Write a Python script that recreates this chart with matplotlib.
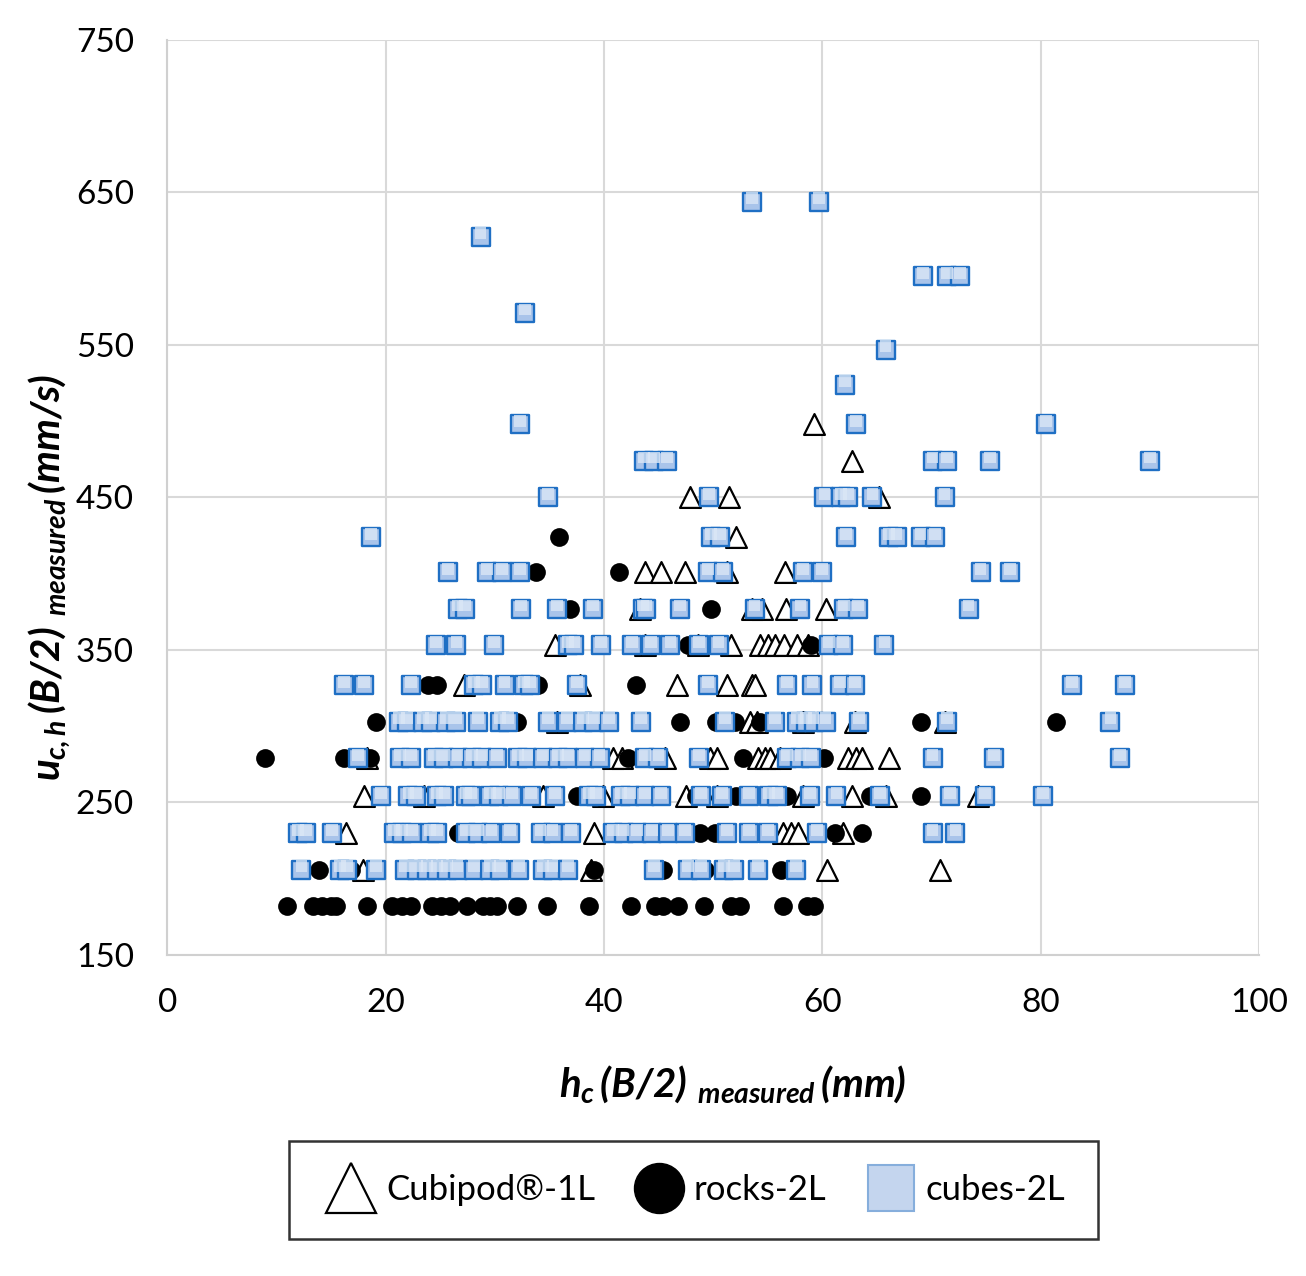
import matplotlib
matplotlib.use('Agg')
import matplotlib.pyplot as plt
from matplotlib.lines import Line2D

# velocity levels (mm/s) and the h_c values (mm) recorded at each level
levels = [182, 206, 230, 254, 279, 303, 327, 353, 377, 401,
          424, 450, 474, 498, 524, 547, 571, 595, 621, 644]

cubipod_h = [
    [],
    [17.9, 38.8, 60.4, 70.8],
    [16.4, 39.1, 56.4, 57.1, 57.8, 61.9],
    [18.0, 23.5, 34.4, 39.9, 47.5, 50.4, 58.2, 62.7, 65.8, 74.3],
    [18.3, 40.8, 41.7, 45.6, 49.7, 50.4, 54.1, 54.8, 55.2, 56.1, 62.4, 63.1, 63.6, 66.1],
    [35.7, 53.4, 54.0, 58.2, 63.0, 71.2],
    [27.2, 37.8, 46.7, 51.3, 53.6, 53.8],
    [35.5, 43.8, 48.6, 51.6, 54.3, 55.0, 55.7, 56.5, 57.7, 58.7],
    [43.3, 53.6, 54.5, 56.7, 60.3],
    [43.8, 45.2, 47.4, 51.3, 56.6],
    [52.1],
    [47.9, 51.5, 65.2],
    [62.7],
    [59.2],
    [], [], [], [], [], [],
]

rocks_h = [
    [11.0, 13.4, 14.2, 15.0, 15.5, 18.3, 20.6, 21.5, 22.3, 24.3, 25.1, 25.9, 27.5,
     28.9, 29.6, 30.2, 32.0, 34.8, 38.6, 42.5, 44.7, 45.4, 46.8, 49.2, 51.6, 52.5,
     56.4, 58.6, 59.2],
    [13.9, 16.8, 39.1, 45.4, 49.3, 56.2],
    [26.6, 48.8, 50.2, 61.2, 63.6],
    [37.5, 43.9, 48.4, 52.1, 56.8, 64.4, 69.0],
    [9.0, 16.2, 18.6, 42.2, 52.7, 60.2],
    [19.1, 32.0, 47.0, 50.3, 52.0, 54.3, 55.5, 69.0, 81.4],
    [23.9, 24.7, 32.0, 34.0, 42.9],
    [47.7, 49.1, 59.0],
    [36.9, 49.8],
    [33.8, 41.4],
    [35.9],
    [],
    [44.8],
    [], [], [], [], [], [], [],
]

cubes_h = [
    [],
    [12.3, 15.8, 16.5, 19.1, 21.8, 22.9, 23.8, 24.7, 25.6, 26.6, 28.1, 29.6, 30.5,
     32.2, 34.4, 35.3, 36.7, 44.6, 47.7, 48.9, 51.0, 51.9, 54.1, 57.6],
    [12.0, 12.7, 15.1, 20.8, 21.5, 22.4, 24.1, 24.7, 27.4, 28.5, 29.7, 31.4, 34.2,
     35.3, 37.0, 40.8, 41.8, 43.0, 44.4, 45.9, 47.4, 51.3, 53.3, 55.0, 59.5, 70.1, 72.2],
    [19.6, 22.1, 22.8, 24.7, 25.4, 27.4, 27.8, 29.6, 30.4, 31.6, 33.3, 35.5, 38.6,
     39.3, 41.6, 42.4, 43.8, 45.2, 48.9, 50.8, 53.3, 55.1, 55.9, 58.9, 61.3, 65.3,
     71.7, 74.9, 80.2],
    [17.5, 21.3, 22.3, 24.4, 25.4, 26.6, 27.9, 28.8, 30.2, 32.1, 33.0, 34.4, 35.8,
     36.7, 38.3, 39.6, 43.8, 45.0, 48.7, 56.8, 58.0, 59.0, 70.1, 75.7, 87.3],
    [21.2, 22.0, 23.4, 24.2, 25.5, 26.5, 28.5, 30.5, 31.2, 34.9, 36.6, 38.1, 39.1,
     40.5, 43.4, 51.1, 55.7, 57.7, 58.5, 59.2, 60.3, 63.4, 71.4, 86.4],
    [16.2, 18.0, 22.3, 28.1, 28.8, 30.9, 32.7, 33.2, 37.5, 49.5, 56.8, 59.1, 61.6,
     63.0, 82.9, 87.7],
    [24.6, 26.5, 29.9, 36.7, 37.3, 39.7, 42.6, 44.3, 46.1, 48.7, 50.5, 60.6, 61.9, 65.7],
    [26.6, 27.3, 32.4, 35.7, 39.0, 43.6, 43.9, 47.0, 53.8, 58.0, 62.0, 63.3, 73.4],
    [25.7, 29.3, 30.7, 32.3, 49.5, 50.9, 58.2, 60.0, 74.5, 77.2],
    [18.7, 49.8, 50.6, 62.2, 66.1, 66.8, 69.0, 70.3],
    [34.9, 49.6, 60.2, 61.7, 62.4, 64.6, 71.2],
    [43.7, 44.6, 45.8, 70.1, 71.4, 75.4, 90.0],
    [32.3, 63.1, 80.5],
    [62.1],
    [65.8],
    [32.8],
    [69.2, 71.4, 72.6],
    [28.7],
    [53.6, 59.7],
]


def flatten(h_lists):
    xs, ys = [], []
    for lev, hs in zip(levels, h_lists):
        xs += hs
        ys += [lev] * len(hs)
    return xs, ys


plt.rcParams['font.family'] = ['Lato', 'DejaVu Sans']
plt.rcParams['mathtext.fontset'] = 'custom'
plt.rcParams['mathtext.it'] = 'Lato:bold:italic'
plt.rcParams['mathtext.rm'] = 'Lato:bold:italic'
plt.rcParams['mathtext.bf'] = 'Lato:bold:italic'

fig = plt.figure(figsize=(13.06, 12.76), dpi=100)
ax = fig.add_axes([0.128, 0.2516, 0.836, 0.7171])

cube_face = '#a9c4ea'
cube_edge = '#1f6fc4'

x, y = flatten(cubipod_h)
ax.scatter(x, y, marker='^', s=15 ** 2, facecolor='white', edgecolor='black',
           linewidth=1.6, zorder=3)
x, y = flatten(rocks_h)
ax.scatter(x, y, marker='o', s=13.5 ** 2, color='black', linewidth=0, zorder=4)
x, y = flatten(cubes_h)
ax.scatter(x, y, marker='s', s=13 ** 2, facecolor=cube_face, edgecolor=cube_edge,
           linewidth=1.7, zorder=5)
# lighter upper half of each cube marker for a shaded look
ax.scatter(x, [v + 2.2 for v in y], marker='s', s=8.5 ** 2, facecolor='#dbe7f6',
           edgecolor='none', alpha=0.8, zorder=6)

ax.set_xlim(0, 100)
ax.set_ylim(150, 750)
ax.set_xticks(range(0, 101, 20))
ax.set_yticks(range(150, 751, 100))
ax.grid(True, color='#d9d9d9', linewidth=1.5)
ax.set_axisbelow(True)
for side in ['top', 'right']:
    ax.spines[side].set_visible(False)
for side in ['left', 'bottom']:
    ax.spines[side].set_color('#d0d0d0')
    ax.spines[side].set_linewidth(1.5)
ax.tick_params(length=0, labelsize=24, pad=24)

ax.set_xlabel(r'$h_c\,(B/2)\ _{measured}\,(mm)$', fontsize=29)
ax.set_ylabel(r'$u_{c,h}\,(B/2)\ _{measured}\,(mm/s)$', fontsize=29)
ax.xaxis.set_label_coords(0.518, -0.118)
ax.yaxis.set_label_coords(-0.086, 0.413)

handles = [
    Line2D([], [], marker='^', linestyle='none', markersize=36,
           markerfacecolor='white', markeredgecolor='black', markeredgewidth=1.6),
    Line2D([], [], marker='o', linestyle='none', markersize=36,
           markerfacecolor='black', markeredgecolor='black'),
    Line2D([], [], marker='s', linestyle='none', markersize=33,
           markerfacecolor='#c4d5ee', markeredgecolor='#86aedc', markeredgewidth=1.5),
]
leg = fig.legend(handles, ['Cubipod®-1L', 'rocks-2L', 'cubes-2L'],
                 loc='center', bbox_to_anchor=(0.531, 0.0674), ncol=3,
                 fontsize=25, frameon=True, fancybox=False, edgecolor='black',
                 handletextpad=0.15, columnspacing=1.0, borderpad=0.95,
                 handlelength=1.7)
leg.get_frame().set_linewidth(1.8)

fig.savefig('out.png', dpi=100)
